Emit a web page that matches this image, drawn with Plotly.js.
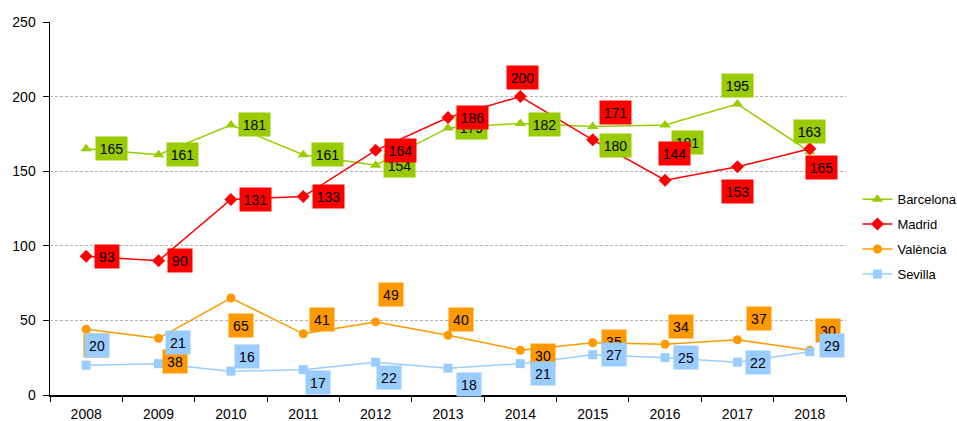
<!DOCTYPE html>
<html><head><meta charset="utf-8">
<script src="https://cdn.plot.ly/plotly-3.0.1.min.js"></script>
<style>html,body{margin:0;padding:0;background:#fff}#chart{width:957px;height:421px}</style>
</head><body><div id="chart"></div>
<script>
const years = ['2008','2009','2010','2011','2012','2013','2014','2015','2016','2017','2018'];
const barcelona = [165,161,181,161,154,179,182,180,181,195,163];
const madrid    = [93,90,131,133,164,186,200,171,144,153,165];
const valencia  = [44,38,65,41,49,40,30,35,34,37,30];
const sevilla   = [20,21,16,17,22,18,21,27,25,22,29];
const yTicks = [0,50,100,150,200,250];

// label offsets in pixels [dx, dy(down)]
const offBarcelona = [[25,0],[24,0],[24,0],[24,0],[24,0],[23,0],[24,1],[23,19],[22,18],[0,-19],[0,-20]];
const offMadrid    = [[21,0],[21,0],[25,0],[25,0],[25,0],[24,0],[2,-19],[23,-27],[9,-27],[0,25],[12,19]];
const offValencia  = [[10,16],[16,23],[10,27],[19,-14],[15,-27],[13,-16],[23,5],[21,-1],[16,-18],[22,-21],[18,-20]];
const offSevilla   = [[11,-20],[19,-21],[16,-15],[15,13],[13,15],[21,16],[23,10],[21,0],[21,0],[21,0],[22,-6]];

const FONT = 'Liberation Sans, Arial, sans-serif';
const series = [
  {name:'Barcelona', y:barcelona, color:'#99cc00', symbol:'triangle-up', size:10, off:offBarcelona},
  {name:'Madrid', y:madrid, color:'#ff0000', symbol:'diamond', size:10, off:offMadrid},
  {name:'València', y:valencia, color:'#ff9900', symbol:'circle', size:9, off:offValencia},
  {name:'Sevilla', y:sevilla, color:'#99ccff', symbol:'square', size:9, off:offSevilla}
];

const traces = series.map((s,i) => ({
  type:'scatter', mode:'lines+markers', name:s.name, x:years, y:s.y,
  legendgroup:'g'+i,
  line:{color:s.color, width:1.5},
  marker:{color:s.color, symbol:s.symbol, size:s.size},
  hoverinfo:'skip'
}));

const annotations = [];
series.forEach(s => {
  s.y.forEach((v,j) => {
    const t = String(v);
    annotations.push({
      xref:'x', yref:'y', x:j, y:v, text:t, showarrow:false,
      xshift:s.off[j][0], yshift:-s.off[j][1],
      bgcolor:s.color, borderpad:2.5, width: t.length>2 ? 26 : 19, height:18,
      font:{family:FONT, size:14, color:'#000'}
    });
  });
});

const layout = {
  width:957, height:421,
  margin:{l:50, r:111, t:22, b:26, autoexpand:false},
  paper_bgcolor:'#fff', plot_bgcolor:'#fff',
  font:{family:FONT, size:14, color:'#000'},
  showlegend:true,
  legend:{x:1.0144, xanchor:'left', y:0.565, yanchor:'top', tracegroupgap:5,
          font:{family:FONT, size:13, color:'#000'}, bgcolor:'rgba(0,0,0,0)'},
  xaxis:{type:'category', range:[-0.5,10.5], tickson:'boundaries', ticks:'outside', ticklen:5,
         tickcolor:'#000', showline:true, linecolor:'#000', linewidth:1.5, showgrid:false,
         fixedrange:true, ticklabelstandoff:6},
  yaxis:{range:[0,250], tickvals:yTicks, ticks:'outside', ticklen:6, tickcolor:'#000',
         showline:true, linecolor:'#000', linewidth:1.5, showgrid:true, gridcolor:'#b4b4b4',
         griddash:'3px,2px', gridwidth:1, zeroline:false, fixedrange:true, ticklabelstandoff:4},
  annotations:annotations
};
Plotly.newPlot('chart', traces, layout, {displayModeBar:false, staticPlot:true});
</script></body></html>
